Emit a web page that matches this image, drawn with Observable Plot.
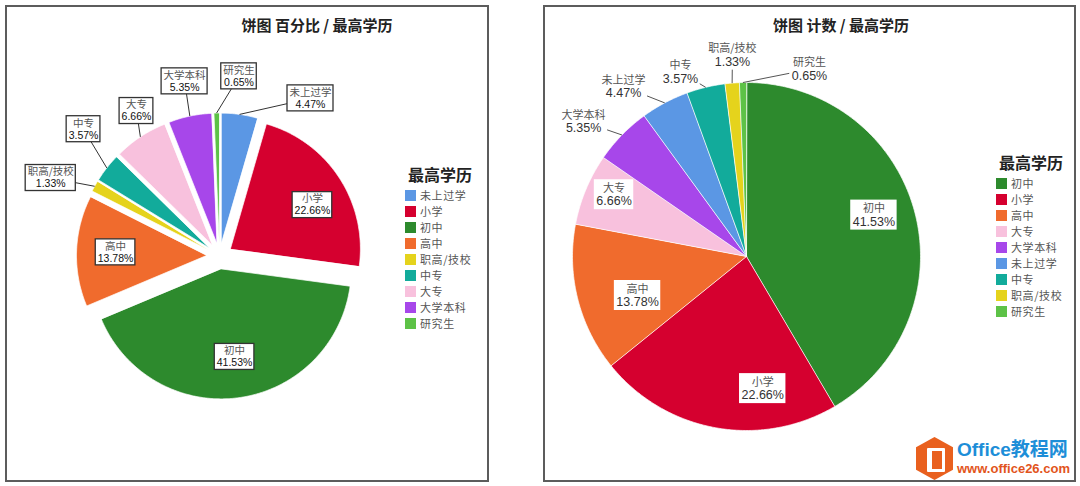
<!DOCTYPE html>
<html><head><meta charset="utf-8">
<script src="https://cdn.jsdelivr.net/npm/d3@7"></script>
<script src="https://cdn.jsdelivr.net/npm/@observablehq/plot@0.6"></script>
<style>
html,body{margin:0;padding:0;background:#fff;}
body{width:1080px;height:486px;position:relative;overflow:hidden;font-family:"Noto Sans CJK SC",sans-serif;}
.panel{position:absolute;border:2px solid #5c5c5c;box-sizing:border-box;}
.abs{position:absolute;}
.title{position:absolute;font-weight:bold;font-size:15px;color:#222;white-space:nowrap;transform:translate(-50%,-50%);line-height:18px;}
.legtitle{position:absolute;font-weight:bold;font-size:16px;color:#222;white-space:nowrap;line-height:20px;transform:translateY(-50%);}
.legbox{position:absolute;width:80px;}
.legl-swatches{margin:0 !important;font-family:"Noto Sans CJK SC",sans-serif !important;font-size:11px !important;letter-spacing:0.6px;color:#555 !important;line-height:16px !important;}
.legl-swatch{height:16px !important;line-height:16px !important;padding:0 !important;margin:0 !important;display:flex !important;align-items:center;overflow:visible !important;}
.legl-swatch > svg{margin-right:4px !important;flex:none;}
.legl-swatch-label{overflow:visible !important;text-overflow:clip !important;white-space:nowrap !important;line-height:16px !important;}
</style></head><body>
<script>
// ---- data ----
const categories = ["未上过学","小学","初中","高中","职高/技校","中专","大专","大学本科","研究生"];
const percents   = [4.47, 22.66, 41.53, 13.78, 1.33, 3.57, 6.66, 5.35, 0.65];
const palette    = ["#5b97e4","#d5002f","#2d8a2d","#f06b2d","#e5d31c","#12ab9b","#f8c1dd","#a747ea","#5dc247"];
const leftOrder  = ["未上过学","小学","初中","高中","职高/技校","中专","大专","大学本科","研究生"];
const rightOrder = ["初中","小学","高中","大专","大学本科","未上过学","中专","职高/技校","研究生"];
const titles     = ["饼图 百分比 / 最高学历","饼图 计数 / 最高学历"];
const legendTitle = "最高学历";

// ---- layout (label placement: angle in degrees clockwise from 12 o'clock, distance in radii) ----
const leftLabelLayout = {"未上过学":[30,1.40],"小学":[61.3,0.815],"初中":[171.5,0.785],"高中":[272,0.80],
  "职高/技校":[294.8,1.43],"中专":[313,1.43],"大专":[330.2,1.285],"大学本科":[348.7,1.37],"研究生":[6.2,1.39]};
const rightLabelLayout = {"初中":[72,0.77],"小学":[173,0.765],"高中":[250.3,0.665],"大专":[295,0.84],
  "大学本科":[309.6,1.215],"未上过学":[324.1,1.205],"中专":[340.3,1.125],"职高/技校":[356,1.16],"研究生":[18.6,1.135]};

const valueOf = c => percents[categories.indexOf(c)];
const fmt = v => d3.format(".2f")(v) + "%";
const ctx = document.createElement("canvas").getContext("2d");
const tw = (s, font) => { ctx.font = font; return ctx.measureText(s).width; };

function el(tag, cls, style, text){
  const e = document.createElement(tag);
  if (cls) e.className = cls;
  Object.assign(e.style, style || {});
  if (text != null) e.textContent = text;
  document.body.appendChild(e);
  return e;
}

function pieChart(cfg){
  const {order, layout, panel, cx, cy, R, explode, nameSize, pctSize, lineGap, boxStroke, boxH, nameColor, pctColor, leaderColor} = cfg;
  const arcs = d3.pie().sort(null).value(d => d)(order.map(valueOf));
  const pts = [], labels = [], leaders = [], boxes = [];
  const ex = explode / R;
  arcs.forEach((a, i) => {
    const cat = order[i];
    const mid = (a.startAngle + a.endAngle) / 2;
    const ox = ex * Math.sin(mid), oy = -ex * Math.cos(mid);
    pts.push({cat, x: ox, y: oy});
    const n = Math.max(2, Math.ceil((a.endAngle - a.startAngle) / (Math.PI / 360)));
    for (let k = 0; k <= n; k++) {
      const t = a.startAngle + (a.endAngle - a.startAngle) * k / n;
      pts.push({cat, x: ox + Math.sin(t), y: oy - Math.cos(t)});
    }
    const [deg, rf] = layout[cat];
    const th = deg * Math.PI / 180;
    const lx = rf * Math.sin(th), ly = -rf * Math.cos(th);
    const name = cat, pct = fmt(a.data);
    labels.push({cat, x: lx, y: ly, name, pct});
    const w = Math.max(tw(name, `${nameSize}px "Noto Sans CJK SC"`), tw(pct, `${pctSize}px "Liberation Sans"`)) + 4;
    const hw = w / 2 / R, hh = boxH / 2 / R;
    boxes.push({x1: lx - hw, x2: lx + hw, y1: ly - hh, y2: ly + hh});
    if (rf > 1) {
      const rr = 1 + ex;
      leaders.push({x1: rr * Math.sin(mid), y1: -rr * Math.cos(mid), x2: lx, y2: ly});
    }
  });
  const svg = Plot.plot({
    width: panel.w, height: panel.h, margin: 0,
    x: {domain: [-1, 1], range: [cx - R, cx + R], axis: null},
    y: {domain: [-1, 1], range: [cy - R, cy + R], axis: null},
    color: {domain: categories, range: palette},
    style: {background: "transparent", overflow: "visible"},
    marks: [
      Plot.line(pts, {x: "x", y: "y", z: "cat", fill: "cat", stroke: "white", strokeWidth: 0.7, curve: "linear-closed"}),
      Plot.link(leaders, {x1: "x1", y1: "y1", x2: "x2", y2: "y2", stroke: leaderColor, strokeWidth: 1}),
      Plot.rect(boxes, {x1: "x1", x2: "x2", y1: "y1", y2: "y2", fill: "white", stroke: boxStroke, strokeWidth: boxStroke === "none" ? 0 : 1.3}),
      Plot.text(labels, {x: "x", y: "y", text: "name", dy: -lineGap / 2, fontSize: nameSize, fontFamily: "Noto Sans CJK SC", fill: nameColor}),
      Plot.text(labels, {x: "x", y: "y", text: "pct", dy: lineGap / 2, fontSize: pctSize, fontFamily: "Liberation Sans", fill: pctColor})
    ]
  });
  el("div", "panel", {left: panel.x + "px", top: panel.y + "px", width: panel.w + "px", height: panel.h + "px"});
  svg.style.position = "absolute";
  svg.style.left = panel.x + "px";
  svg.style.top = panel.y + "px";
  document.body.appendChild(svg);

  el("div", "title", {left: cfg.title.x + "px", top: cfg.title.y + "px"}, cfg.title.text);
  el("div", "legtitle", {left: cfg.legend.tx + "px", top: cfg.legend.ty + "px"}, legendTitle);
  const leg = Plot.legend({
    color: {domain: order, range: order.map(c => palette[categories.indexOf(c)])},
    legend: "swatches", columns: 1, swatchSize: 11, className: "legl"
  });
  const box = el("div", "legbox", {left: cfg.legend.x + "px", top: cfg.legend.y + "px"});
  box.appendChild(leg);
}

pieChart({
  order: leftOrder, layout: leftLabelLayout,
  panel: {x: 5, y: 5, w: 484, h: 477},
  cx: 214, cy: 250.5, R: 130, explode: 13,
  nameSize: 10.5, pctSize: 10.5, lineGap: 12, boxH: 26, boxStroke: "#333",
  nameColor: "#555", pctColor: "#111", leaderColor: "#333",
  title: {x: 317, y: 25, text: titles[0]},
  legend: {tx: 408, ty: 174, x: 405, y: 187}
});
pieChart({
  order: rightOrder, layout: rightLabelLayout,
  panel: {x: 543, y: 5, w: 533, h: 477},
  cx: 203, cy: 251, R: 174, explode: 0,
  nameSize: 11, pctSize: 12.5, lineGap: 13, boxH: 30, boxStroke: "none",
  nameColor: "#555", pctColor: "#333", leaderColor: "#555",
  title: {x: 841, y: 25, text: titles[1]},
  legend: {tx: 999, ty: 162, x: 996, y: 175}
});

// watermark
el("div", "abs", {left: "916px", top: "437px", width: "37px", height: "43px", background: "#e9601e",
  clipPath: "polygon(50% 0,100% 24%,100% 76%,50% 100%,0 76%,0 24%)"});
el("div", "abs", {left: "927px", top: "448px", width: "10px", height: "18px", border: "3px solid #fff", borderLeftWidth: "5px", borderRadius: "1px"});
el("div", "abs", {left: "957px", top: "439px", fontFamily: "'Liberation Sans','Noto Sans CJK SC'", fontWeight: "bold", fontSize: "19px", color: "#1d8ed8", lineHeight: "22px", whiteSpace: "nowrap"}, "Office教程网");
el("div", "abs", {left: "957px", top: "461px", fontFamily: "'Liberation Sans'", fontWeight: "bold", fontSize: "13px", color: "#e2541b", lineHeight: "15px", whiteSpace: "nowrap"}, "www.office26.com");
</script>
</body></html>
